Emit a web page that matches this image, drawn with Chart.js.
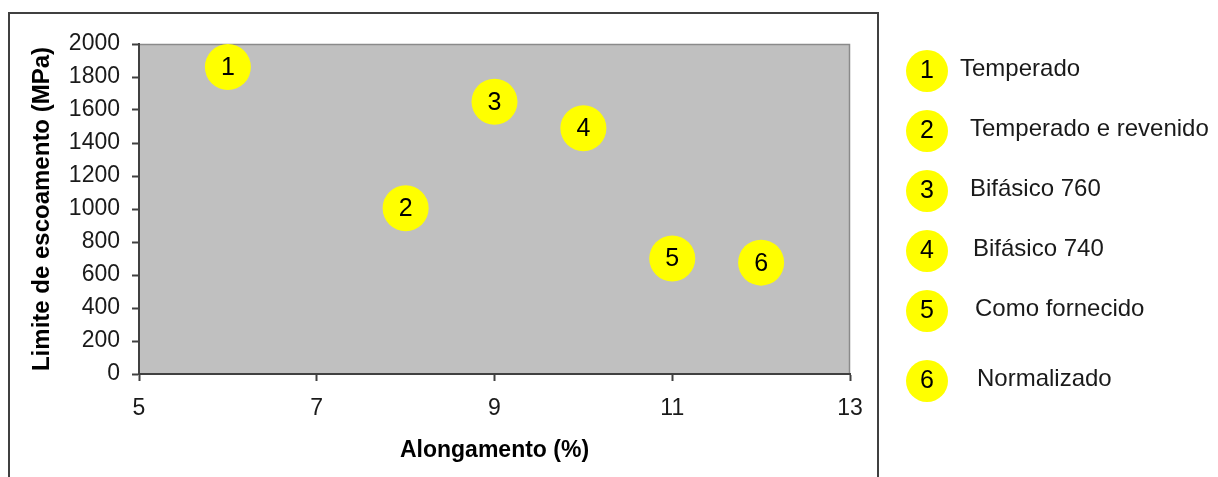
<!DOCTYPE html>
<html>
<head>
<meta charset="utf-8">
<script src="https://cdn.jsdelivr.net/npm/chart.js@4"></script>
<style>
  html, body { margin: 0; padding: 0; background: #fff; }
  #wrap { width: 1218px; height: 477px; position: relative; }
</style>
</head>
<body>
<div id="wrap"><canvas id="scatterChart"></canvas></div>
<script>
// DATA
const categories = ['Temperado', 'Temperado e revenido', 'Bifásico 760', 'Bifásico 740', 'Como fornecido', 'Normalizado'];
const pointNumbers = ['1', '2', '3', '4', '5', '6'];
const alongamento = [6, 8, 9, 10, 11, 12];            // %
const limiteEscoamento = [1860, 1005, 1650, 1490, 700, 675]; // MPa
const xTicks = [5, 7, 9, 11, 13];
const yTicks = [0, 200, 400, 600, 800, 1000, 1200, 1400, 1600, 1800, 2000];

const FONT = '"Liberation Sans", Arial, sans-serif';

// gray plot background + light border on top/right
const plotBackground = {
    id: 'plotBackground',
    beforeDraw(chart) {
        const { ctx, chartArea: a } = chart;
        ctx.save();
        ctx.fillStyle = '#C0C0C0';
        ctx.fillRect(a.left, a.top, a.right - a.left, a.bottom - a.top);
        ctx.strokeStyle = '#8a8a8a';
        ctx.lineWidth = 1.5;
        ctx.beginPath();
        ctx.moveTo(a.left, a.top + 0.5);
        ctx.lineTo(a.right - 0.5, a.top + 0.5);
        ctx.lineTo(a.right - 0.5, a.bottom);
        ctx.stroke();
        ctx.restore();
    }
};

// numbers inside the yellow circles
const pointNumbersPlugin = {
    id: 'pointNumbers',
    afterDatasetsDraw(chart) {
        const ctx = chart.ctx;
        const meta = chart.getDatasetMeta(0);
        ctx.save();
        ctx.fillStyle = '#000';
        ctx.font = '25px ' + FONT;
        ctx.textAlign = 'center';
        ctx.textBaseline = 'middle';
        meta.data.forEach((pt, i) => {
            ctx.fillText(pointNumbers[i], pt.x, pt.y + 1);
        });
        ctx.restore();
    }
};

// outer frame and the legend on the right
const frameAndLegend = {
    id: 'frameAndLegend',
    afterDraw(chart) {
        const ctx = chart.ctx;
        ctx.save();
        ctx.strokeStyle = '#404040';
        ctx.lineWidth = 2;
        ctx.strokeRect(9, 13, 869, 520);

        const rows = [
            { y: 71, tx: 960 },
            { y: 131, tx: 970 },
            { y: 191, tx: 970 },
            { y: 251, tx: 973 },
            { y: 311, tx: 975 },
            { y: 381, tx: 977 }
        ];
        categories.forEach((name, i) => {
            const r = rows[i];
            ctx.fillStyle = '#FFFF00';
            ctx.beginPath();
            ctx.arc(927, r.y, 21, 0, Math.PI * 2);
            ctx.fill();
            ctx.fillStyle = '#000';
            ctx.font = '25px ' + FONT;
            ctx.textAlign = 'center';
            ctx.textBaseline = 'middle';
            ctx.fillText(pointNumbers[i], 927, r.y);
            ctx.fillStyle = '#1a1a1a';
            ctx.font = '24px ' + FONT;
            ctx.textAlign = 'left';
            ctx.fillText(name, r.tx, r.y - 2);
        });
        ctx.restore();
    }
};

const ctx = document.getElementById('scatterChart').getContext('2d');
new Chart(ctx, {
    type: 'scatter',
    data: {
        datasets: [{
            label: 'Limite de escoamento',
            data: alongamento.map((x, i) => ({ x: x, y: limiteEscoamento[i] })),
            backgroundColor: '#FFFF00',
            borderWidth: 0,
            pointRadius: 23,
            pointHoverRadius: 23,
            clip: false
        }]
    },
    options: {
        responsive: true,
        maintainAspectRatio: false,
        animation: false,
        events: [],
        layout: { padding: { left: 10, top: 44, right: 368, bottom: 0 } },
        plugins: {
            legend: { display: false },
            tooltip: { enabled: false }
        },
        scales: {
            x: {
                type: 'linear',
                min: 5,
                max: 13,
                afterBuildTicks: s => { s.ticks = xTicks.map(v => ({ value: v })); },
                afterFit: s => { s.height = 103; },
                grid: { drawOnChartArea: false, tickLength: 7, tickColor: '#404040', tickWidth: 2 },
                border: { color: '#404040', width: 2 },
                ticks: {
                    color: '#1a1a1a', font: { family: FONT, size: 23 }, padding: 14, maxRotation: 0,
                    callback: v => String(v)
                },
                title: {
                    display: true,
                    text: 'Alongamento (%)',
                    color: '#000',
                    font: { family: FONT, size: 23, weight: 'bold' },
                    padding: { top: 0, bottom: 13 }
                }
            },
            y: {
                type: 'linear',
                min: 0,
                max: 2000,
                afterBuildTicks: s => { s.ticks = yTicks.map(v => ({ value: v })); },
                afterFit: s => { s.width = 129; },
                grid: { drawOnChartArea: false, tickLength: 7, tickColor: '#404040', tickWidth: 2 },
                border: { color: '#404040', width: 2 },
                ticks: {
                    color: '#1a1a1a', font: { family: FONT, size: 23 }, padding: 12, autoSkip: false,
                    callback: v => String(v)
                },
                title: {
                    display: true,
                    text: 'Limite de escoamento (MPa)',
                    color: '#000',
                    font: { family: FONT, size: 24, weight: 'bold' },
                    padding: { top: 18, bottom: 0 }
                }
            }
        }
    },
    plugins: [plotBackground, pointNumbersPlugin, frameAndLegend]
});
</script>
</body>
</html>
